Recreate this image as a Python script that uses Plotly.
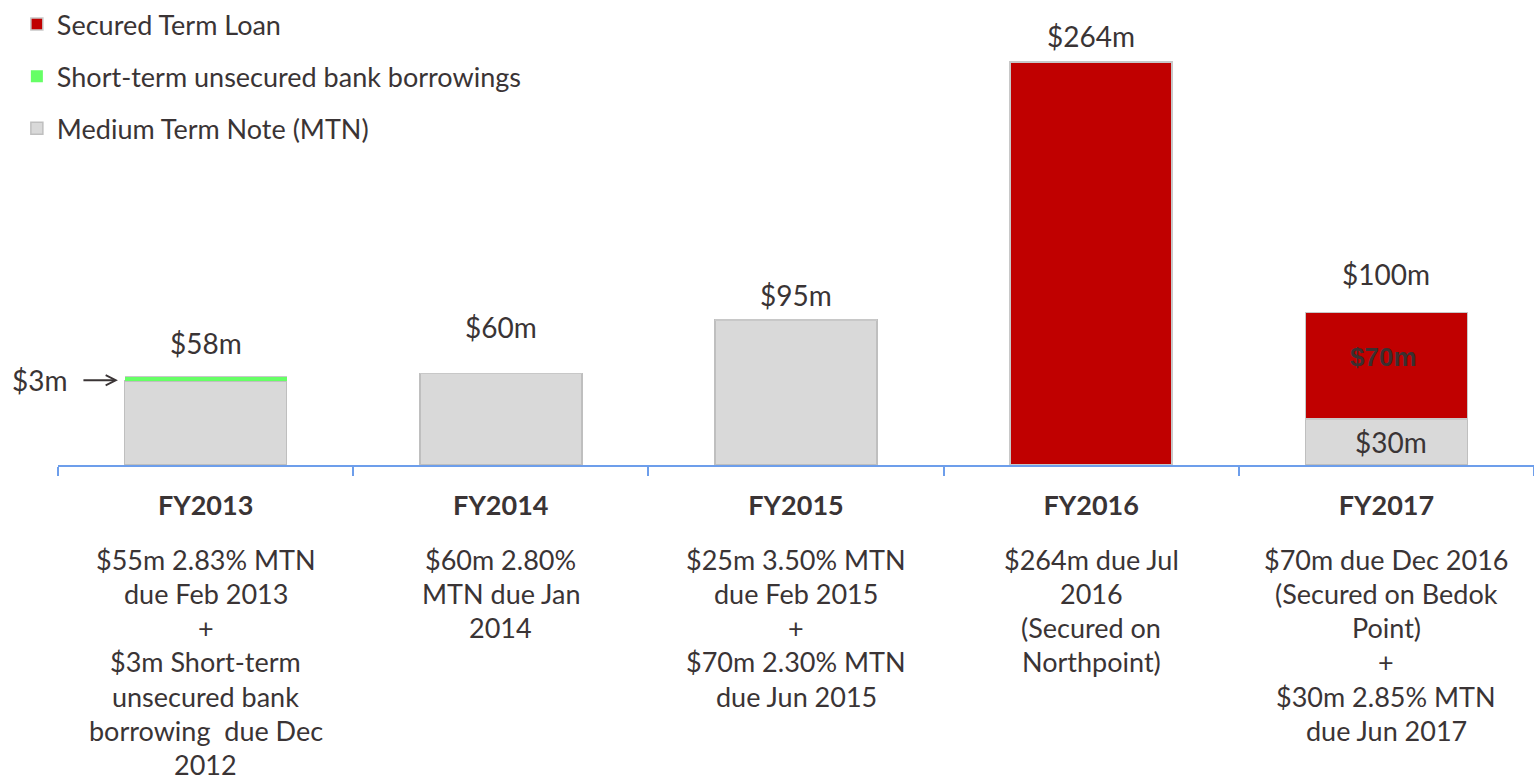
import plotly.graph_objects as go

# data
years = ["FY2013", "FY2014", "FY2015", "FY2016", "FY2017"]
mtn = [55, 60, 95, 0, 30]
short_term = [3, 0, 0, 0, 0]
secured = [0, 0, 0, 264, 70]

notes = [
    ["$55m 2.83% MTN", "due Feb 2013", "+", "$3m Short-term", "unsecured bank",
     "borrowing  due Dec", "2012"],
    ["$60m 2.80%", "MTN due Jan", "2014"],
    ["$25m 3.50% MTN", "due Feb 2015", "+", "$70m 2.30% MTN", "due Jun 2015"],
    ["$264m due Jul", "2016", "(Secured on", "Northpoint)"],
    ["$70m due Dec 2016", "(Secured on Bedok", "Point)", "+", "$30m 2.85% MTN",
     "due Jun 2017"],
]

FONT = "Lato"
TXT = "#3A3435"
GREY = "#D9D9D9"
RED = "#C00000"
GREEN = "#66FF66"

fig = go.Figure()

fig.add_trace(go.Bar(
    x=years, y=mtn, name="Medium Term Note (MTN)", legendgroup="c", legendrank=3,
    marker=dict(color=GREY, line=dict(color="#BFBFBF", width=1.5)),
))
fig.add_trace(go.Bar(
    x=years, y=short_term, name="Short-term unsecured bank borrowings",
    legendgroup="b", legendrank=2,
    marker=dict(color=GREEN, line=dict(width=0)),
))
fig.add_trace(go.Bar(
    x=years, y=secured, name="Secured Term Loan", legendgroup="a", legendrank=1,
    marker=dict(color=RED, line=dict(color="#C8C8C8", width=1.5)),
))

# total labels above bars
totals = [a + b + c for a, b, c in zip(mtn, short_term, secured)]
shifts = [14, 27, 6, 7, 19]
for yr, tot, sh in zip(years, totals, shifts):
    fig.add_annotation(x=yr, y=tot, text=f"${tot}m", showarrow=False,
                       yanchor="bottom", yshift=sh,
                       font=dict(family=FONT, size=28, color=TXT))

# segment labels inside FY2017
fig.add_annotation(x="FY2017", y=mtn[4] + secured[4] / 2, text=f"<b>${secured[4]}m</b>",
                   showarrow=False, xshift=-3, yshift=9,
                   font=dict(family="Liberation Sans", size=26, color="#3A3030"))
fig.add_annotation(x="FY2017", y=mtn[4] / 2, text=f"${mtn[4]}m",
                   showarrow=False, xshift=5,
                   font=dict(family=FONT, size=28, color=TXT))

# $3m pointer
fig.add_annotation(x=-0.297, y=mtn[0] + short_term[0] / 2 - 1, text=f"${short_term[0]}m",
                   showarrow=True, ax=-78, ay=0, arrowhead=5, arrowsize=1.1,
                   arrowwidth=1.8, arrowcolor=TXT, startstandoff=14,
                   font=dict(family=FONT, size=28, color=TXT))

# notes under each year
for i, lines in enumerate(notes):
    for j, line in enumerate(lines):
        fig.add_annotation(x=years[i], y=0, yref="paper", text=line, showarrow=False,
                           yanchor="middle", yshift=-(94 + 34.3 * j),
                           font=dict(family=FONT, size=27, color=TXT))

fig.update_layout(
    barmode="stack",
    bargap=0.451,
    width=1534,
    height=784,
    margin=dict(l=58, r=0, t=0, b=319, autoexpand=False),
    plot_bgcolor="white",
    paper_bgcolor="white",
    font=dict(family=FONT, size=27, color=TXT),
    showlegend=True,
    legend=dict(
        xref="container", yref="container", x=0.011, y=1.0,
        xanchor="left", yanchor="top",
        traceorder="grouped", tracegroupgap=14,
        font=dict(family=FONT, size=27, color=TXT),
        bgcolor="rgba(0,0,0,0)",
    ),
    xaxis=dict(
        range=[-0.5, 4.5],
        tickmode="array", tickvals=years,
        ticktext=[f"<b>{y}</b>" for y in years],
        tickfont=dict(family=FONT, size=27, color=TXT),
        showline=True, linecolor="#6D9EEB", linewidth=2,
        ticks="outside", tickson="boundaries", ticklen=9, tickcolor="#6D9EEB", tickwidth=2,
        ticklabelstandoff=16,
        showgrid=False,
    ),
    yaxis=dict(range=[0, 304.6], visible=False, showgrid=False),
)

fig.write_html("out.html", config={"displayModeBar": False},
               post_script="document.body.style.margin='0';")
